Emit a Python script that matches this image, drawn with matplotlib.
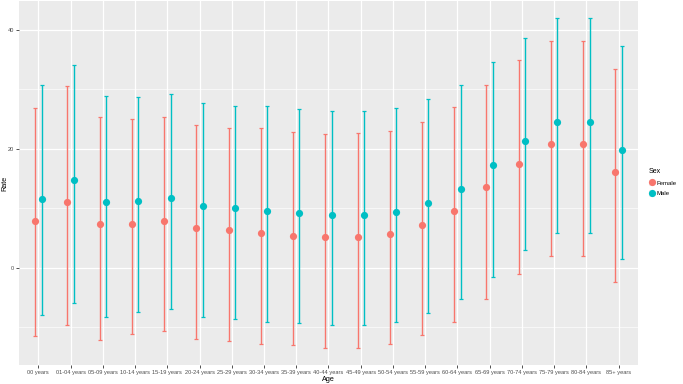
import numpy as np
import matplotlib
matplotlib.use("Agg")
import matplotlib.pyplot as plt
from matplotlib.lines import Line2D
from matplotlib.patches import Rectangle
from matplotlib.ticker import MultipleLocator

plt.rcParams['font.family'] = ['Liberation Sans', 'DejaVu Sans']

ages = ["00 years", "01-04 years", "05-09 years", "10-14 years", "15-19 years",
        "20-24 years", "25-29 years", "30-34 years", "35-39 years", "40-44 years",
        "45-49 years", "50-54 years", "55-59 years", "60-64 years", "65-69 years",
        "70-74 years", "75-79 years", "80-84 years", "85+ years"]

female_rate = [7.8, 11.0, 7.3, 7.4, 7.9, 6.6, 6.3, 5.9, 5.4, 5.1,
               5.2, 5.7, 7.1, 9.5, 13.5, 17.5, 20.8, 20.8, 16.1]
female_low = [-11.6, -9.7, -12.2, -11.2, -10.7, -12.0, -12.3, -12.9, -13.1, -13.6,
              -13.5, -12.9, -11.4, -9.1, -5.3, -1.0, 2.0, 2.0, -2.5]
female_high = [26.9, 30.6, 25.3, 25.0, 25.4, 24.1, 23.5, 23.5, 22.8, 22.5,
               22.6, 23.0, 24.5, 27.0, 30.8, 35.0, 38.2, 38.2, 33.4]

male_rate = [11.6, 14.7, 11.1, 11.2, 11.7, 10.4, 10.0, 9.6, 9.2, 8.8,
             8.9, 9.4, 10.8, 13.2, 17.2, 21.3, 24.6, 24.5, 19.8]
male_low = [-7.9, -6.0, -8.4, -7.5, -7.0, -8.3, -8.6, -9.1, -9.4, -9.7,
            -9.6, -9.2, -7.7, -5.3, -1.5, 2.9, 5.9, 5.9, 1.4]
male_high = [30.8, 34.2, 28.9, 28.8, 29.2, 27.8, 27.2, 27.3, 26.7, 26.3,
             26.3, 26.8, 28.4, 30.7, 34.6, 38.7, 42.1, 42.1, 37.3]

col_f = "#F8766D"
col_m = "#00BFC4"

fig = plt.figure(figsize=(6.83, 3.84), dpi=100)
ax = fig.add_axes([19 / 683, 1 - 365 / 384, 619 / 683, 364 / 384])
ax.set_facecolor("#EBEBEB")
for s in ax.spines.values():
    s.set_visible(False)

x = np.arange(len(ages))
dodge = 0.1
for off, col, r, lo, hi in [(-dodge, col_f, female_rate, female_low, female_high),
                            (dodge, col_m, male_rate, male_low, male_high)]:
    r = np.array(r); lo = np.array(lo); hi = np.array(hi)
    ax.errorbar(x + off, r, yerr=[r - lo, hi - r], fmt="none", ecolor=col,
                elinewidth=1.0, capsize=1.3, capthick=0.9, zorder=3)
    ax.plot(x + off, r, "o", color=col, ms=5.2, mec="none", zorder=4)

ax.set_xlim(-0.6, len(ages) - 0.4)
ax.set_ylim(-16.4, 44.9)
ax.set_xticks(x)
ax.set_xticklabels(ages)
ax.yaxis.set_major_locator(MultipleLocator(20))
ax.yaxis.set_minor_locator(MultipleLocator(10))
ax.grid(which="major", color="white", lw=0.9)
ax.grid(which="minor", axis="y", color="white", lw=0.45)
ax.set_axisbelow(True)
ax.tick_params(which="major", length=2, width=0.6, color="#333333",
               labelsize=4.1, labelcolor="#4D4D4D", pad=1.5)
ax.tick_params(which="minor", length=0)
ax.set_xlabel("Age", fontsize=5.2, labelpad=1)
ax.set_ylabel("Rate", fontsize=5.2)
ax.yaxis.set_label_coords(-0.0165, 0.5)

# legend keys on light grey squares, like ggplot
key_bg = Rectangle((0, 0), 1, 1, fc="#F2F2F2", ec="none")
handles = [(key_bg, Line2D([0], [0], marker="o", ls="none", color=col_f, ms=5.2, mec="none")),
           (key_bg, Line2D([0], [0], marker="o", ls="none", color=col_m, ms=5.2, mec="none"))]
leg = fig.legend(handles=handles, labels=["Female", "Male"], title="Sex", loc="center left",
                 bbox_to_anchor=(0.944, 0.525), frameon=False, fontsize=4.3,
                 title_fontsize=5.0, handlelength=0.9, handleheight=1.2, handletextpad=0.3,
                 labelspacing=0.75, borderpad=0.2)
leg._legend_box.align = "left"

fig.savefig("out.png", dpi=100)
